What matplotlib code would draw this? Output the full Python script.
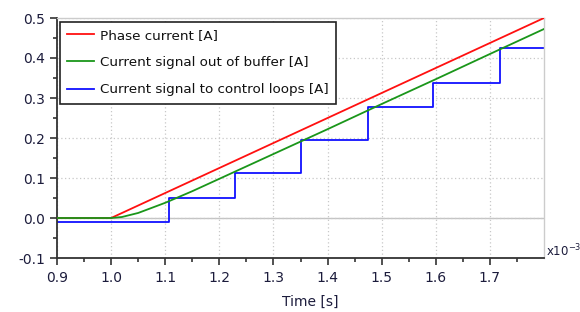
import matplotlib
matplotlib.use('Agg')
import matplotlib.pyplot as plt
from matplotlib.ticker import MultipleLocator, FixedLocator, FormatStrFormatter

# time axis is in units of 1e-3 s (axis shows "x10^-3")
phase_t = [0.9, 1.0, 1.8]
phase_i = [0.0, 0.0, 0.5]

buffer_t = [0.9, 1.0, 1.02, 1.05, 1.1, 1.15, 1.2, 1.3, 1.4, 1.5, 1.6, 1.7, 1.8]
buffer_i = [0.0, 0.0, 0.0025, 0.0126, 0.038, 0.067, 0.098, 0.16, 0.222, 0.285, 0.347, 0.41, 0.4725]

# sample-and-hold signal: value holds from each time until the next
control_t = [0.9, 1.107, 1.229, 1.351, 1.474, 1.595, 1.719, 1.8]
control_i = [-0.011, 0.051, 0.112, 0.195, 0.278, 0.337, 0.426, 0.426]

x_ticks = [0.9, 1.0, 1.1, 1.2, 1.3, 1.4, 1.5, 1.6, 1.7]

TEXT = '#1c1c3c'

fig = plt.figure(figsize=(5.8, 3.12), dpi=100)
ax = fig.add_axes([57 / 580, 54 / 312, 487 / 580, 240 / 312])

ax.axhline(0, color='#c4c4c4', linewidth=1.0, zorder=1)
ax.plot(phase_t, phase_i, color='#ff1010', linewidth=1.3, label='Phase current [A]', zorder=3)
ax.plot(buffer_t, buffer_i, color='#1a961a', linewidth=1.3, label='Current signal out of buffer [A]', zorder=3)
ax.step(control_t, control_i, where='post', color='#1010ff', linewidth=1.3,
        label='Current signal to control loops [A]', zorder=2)

ax.set_xlim(0.9, 1.8)
ax.set_ylim(-0.1, 0.5)
ax.xaxis.set_major_locator(FixedLocator(x_ticks))
ax.xaxis.set_minor_locator(FixedLocator([t + 0.05 for t in x_ticks]))
ax.yaxis.set_major_locator(MultipleLocator(0.1))
ax.yaxis.set_minor_locator(MultipleLocator(0.05))
ax.xaxis.set_major_formatter(FormatStrFormatter('%.1f'))
ax.yaxis.set_major_formatter(FormatStrFormatter('%.1f'))

ax.grid(True, which='major', color='#c8c8c8', linestyle=(0, (1, 2)), linewidth=0.9)
ax.tick_params(which='major', direction='out', length=5, width=1.2, color='#333333',
               labelsize=10, labelcolor=TEXT)
ax.tick_params(which='minor', direction='out', length=3, width=1.2, color='#333333')
ax.tick_params(axis='x', pad=4)

for side in ['left', 'bottom']:
    ax.spines[side].set_color('#333333')
    ax.spines[side].set_linewidth(1.3)
for side in ['top', 'right']:
    ax.spines[side].set_color('#cccccc')
    ax.spines[side].set_linewidth(1.0)

ax.set_xlabel('Time [s]', fontsize=10, color=TEXT)
ax.xaxis.set_label_coords(0.52, -0.155)
fig.text(546 / 580, 1 - 251 / 312, r'x10$^{-3}$', fontsize=8.5, color=TEXT, va='center', ha='left')

leg = ax.legend(loc='upper left', bbox_to_anchor=(0.006, 0.985), fontsize=9.7, frameon=True,
                fancybox=False, edgecolor='#222222', framealpha=1.0, handlelength=2.0,
                borderpad=0.55, labelspacing=1.05, handletextpad=0.45, borderaxespad=0.0)
leg.get_frame().set_linewidth(1.2)
for t in leg.get_texts():
    t.set_color('#111111')

fig.savefig('out.png', dpi=100)
